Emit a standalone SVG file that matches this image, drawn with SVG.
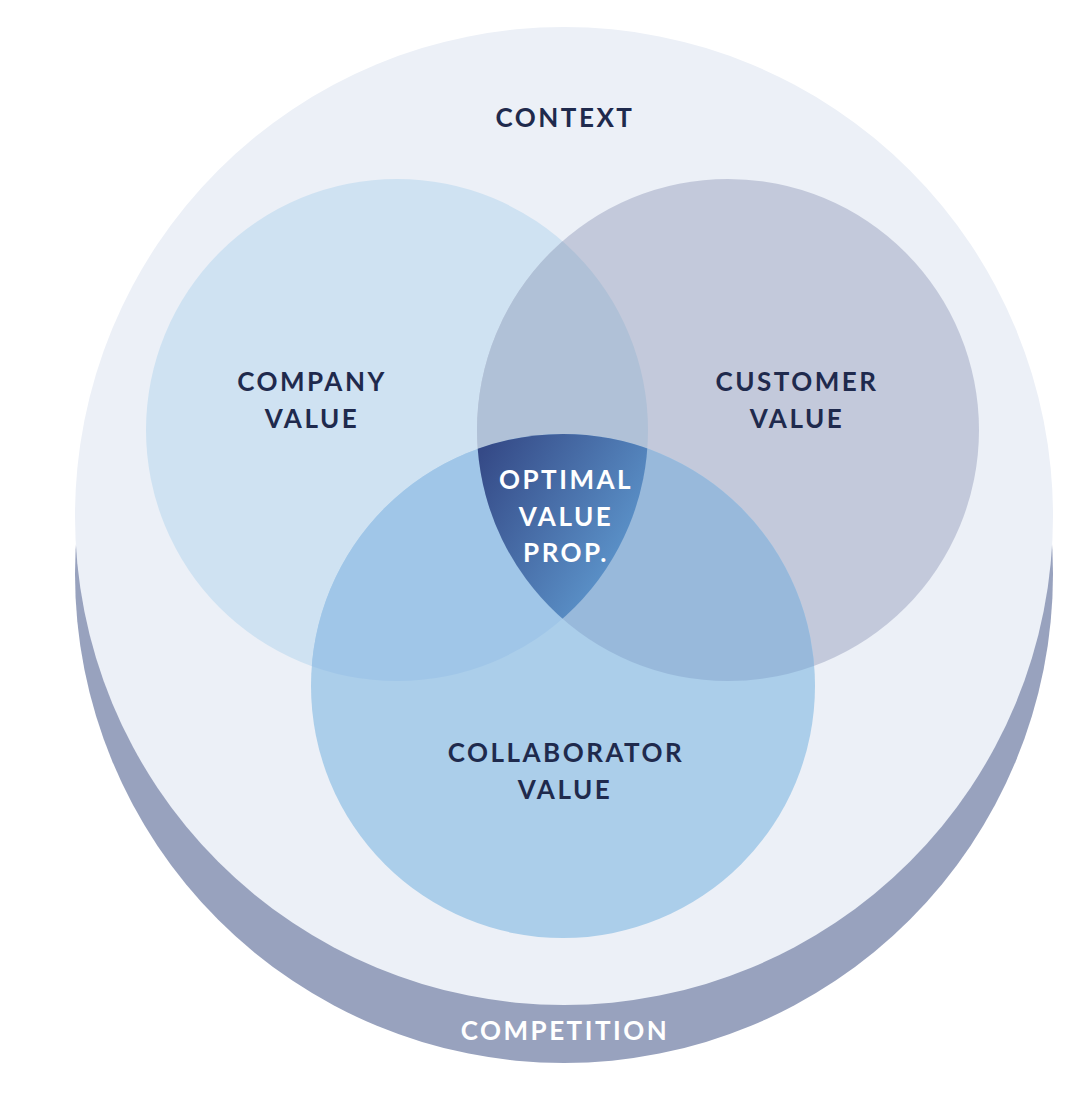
<svg xmlns="http://www.w3.org/2000/svg" width="1088" height="1094" viewBox="0 0 1088 1094">
<defs>
<style>
.lbl{font-family:Lato,"Liberation Sans",sans-serif;font-weight:700;font-size:26px;fill:#1F2A4D;text-anchor:middle;letter-spacing:2.5px}
.wlbl{font-family:Lato,"Liberation Sans",sans-serif;font-weight:700;font-size:26px;fill:#FFFFFF;text-anchor:middle;letter-spacing:2.5px}
</style>
<clipPath id="cCompany"><circle cx="397" cy="430" r="251"/></clipPath>
<clipPath id="cCustomer"><circle cx="728" cy="430" r="251"/></clipPath>
<clipPath id="cCustCollab" clip-path="url(#cCustomer)"><circle cx="563" cy="686" r="252"/></clipPath>
<linearGradient id="gOpt" gradientUnits="userSpaceOnUse" x1="480" y1="455" x2="625" y2="545">
<stop offset="0" stop-color="#354A87"/>
<stop offset="1" stop-color="#5A90C7"/>
</linearGradient>
</defs>
<rect width="1088" height="1094" fill="#FFFFFF"/>
<g id="competition">
<circle cx="564" cy="574" r="489" fill="#98A2BE"/>
<text class="wlbl" x="565" y="1040">COMPETITION</text>
</g>
<g id="context">
<circle cx="564" cy="516" r="489" fill="#ECF0F7"/>
<text class="lbl" x="565" y="127">CONTEXT</text>
</g>
<g id="company-value">
<circle cx="397" cy="430" r="251" fill="#CFE2F2"/>
</g>
<g id="customer-value">
<circle cx="728" cy="430" r="251" fill="#C3C9DB"/>
</g>
<g id="collaborator-value">
<circle cx="563" cy="686" r="252" fill="#ABCEEA"/>
</g>
<g id="overlaps">
<circle cx="728" cy="430" r="251" fill="#B0C1D7" clip-path="url(#cCompany)"/>
<circle cx="563" cy="686" r="252" fill="#A0C6E8" clip-path="url(#cCompany)"/>
<circle cx="563" cy="686" r="252" fill="#98B9DB" clip-path="url(#cCustomer)"/>
</g>
<g id="optimal-value-prop">
<circle cx="397" cy="430" r="251" fill="url(#gOpt)" clip-path="url(#cCustCollab)"/>
<text class="wlbl" x="566" y="489">OPTIMAL</text>
<text class="wlbl" x="566" y="526">VALUE</text>
<text class="wlbl" x="566" y="562">PROP.</text>
</g>
<g id="labels">
<text class="lbl" x="312" y="391">COMPANY</text>
<text class="lbl" x="312" y="428">VALUE</text>
<text class="lbl" x="797" y="391">CUSTOMER</text>
<text class="lbl" x="797" y="428">VALUE</text>
<text class="lbl" x="566" y="762">COLLABORATOR</text>
<text class="lbl" x="565" y="799">VALUE</text>
</g>
<g id="connectors"></g>
</svg>
